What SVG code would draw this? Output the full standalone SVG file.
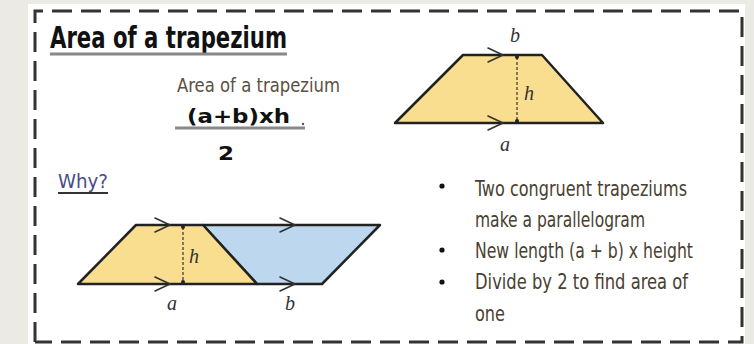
<svg xmlns="http://www.w3.org/2000/svg" xmlns:xlink="http://www.w3.org/1999/xlink" width="754" height="344" viewBox="0 0 754 344">
<style>
.hand{font-family:"DejaVu Sans Condensed","DejaVu Sans",sans-serif;}
.title{font-size:31px;font-weight:bold;fill:#111;}
.sub{font-size:20px;fill:#5a5040;}
.formula{font-size:20px;font-weight:bold;fill:#111;}
.why{font-size:20px;fill:#4a4a8a;}
.bul{font-size:21px;fill:#4a4030;}
.math{font-family:"Liberation Serif","DejaVu Serif",serif;font-style:italic;font-size:20px;fill:#333;text-anchor:middle;}
.shape{stroke:#222;stroke-width:2.5;stroke-linejoin:round;}
.yel{fill:#f9de8f;}
.blu{fill:#bdd7ee;}
.ht{stroke:#333;stroke-width:1.2;stroke-dasharray:3 2;fill:none;}
.chev{fill:none;stroke:#333;stroke-width:1.6;stroke-linecap:round;stroke-linejoin:round;}
.border{fill:none;stroke:#333;stroke-width:3;stroke-dasharray:20 9;}
</style>
<defs>
<path id="chev" class="chev" d="M-15,-7 L0,0 L-15,7"/>
<marker id="tick" markerWidth="6" markerHeight="6" refX="3" refY="3" markerUnits="userSpaceOnUse"><circle cx="3" cy="3" r="2" fill="#222"/></marker>
</defs>
<rect width="754" height="344" fill="#ebeae5"/>
<rect x="28" y="4" width="717" height="340" fill="#ffffff"/>
<path class="border" d="M35,342 L35,11 L742,11 L742,342 L35,342"/>

<g id="title">
<text class="hand title" x="50" y="48" textLength="237" lengthAdjust="spacingAndGlyphs">Area of a trapezium</text>
<line x1="50" y1="54" x2="287" y2="54" stroke="#888" stroke-width="3"/>
</g>

<g id="formula">
<text class="hand sub" x="177" y="92" textLength="163" lengthAdjust="spacingAndGlyphs">Area of a trapezium</text>
<text class="hand formula" x="187" y="123" textLength="103" lengthAdjust="spacingAndGlyphs">(a+b)xh</text>
<line x1="175" y1="128" x2="305" y2="128" stroke="#888" stroke-width="3"/>
<circle cx="303" cy="124" r="1.2" fill="#555"/>
<text class="hand formula" x="218" y="160" textLength="16" lengthAdjust="spacingAndGlyphs">2</text>
</g>

<g id="trapezium-top">
<polygon class="shape yel" points="463,55 542,55 603,123 395,123"/>
<line class="ht" x1="517" y1="57" x2="517" y2="121" marker-start="url(#tick)" marker-end="url(#tick)"/>
<use xlink:href="#chev" href="#chev" x="503" y="55"/>
<use xlink:href="#chev" href="#chev" x="503" y="123"/>
<text class="math" x="515" y="42">b</text>
<text class="math" x="529" y="100">h</text>
<text class="math" x="505" y="151">a</text>
</g>

<g id="why">
<text class="hand why" x="58" y="188" textLength="50" lengthAdjust="spacingAndGlyphs">Why?</text>
<line x1="58" y1="193" x2="108" y2="193" stroke="#333" stroke-width="1.8"/>
</g>

<g id="parallelogram">
<polygon class="shape blu" points="203,225 380,225 322,284 257,284"/>
<polygon class="shape yel" points="136,225 203,225 257,284 78,284"/>
<line class="ht" x1="183" y1="227" x2="183" y2="282" marker-start="url(#tick)" marker-end="url(#tick)"/>
<use xlink:href="#chev" href="#chev" x="170" y="225"/>
<use xlink:href="#chev" href="#chev" x="170" y="284"/>
<use xlink:href="#chev" href="#chev" x="295" y="225"/>
<use xlink:href="#chev" href="#chev" x="295" y="284"/>
<text class="math" x="194" y="263">h</text>
<text class="math" x="172" y="310">a</text>
<text class="math" x="290" y="310">b</text>
</g>

<g id="bullets">
<circle cx="442" cy="186" r="2.6" fill="#111"/>
<circle cx="442" cy="250" r="2.6" fill="#111"/>
<circle cx="442" cy="282" r="2.6" fill="#111"/>
<text class="hand bul" x="475" y="196" textLength="212" lengthAdjust="spacingAndGlyphs">Two congruent trapeziums</text>
<text class="hand bul" x="475" y="227" textLength="170" lengthAdjust="spacingAndGlyphs">make a parallelogram</text>
<text class="hand bul" x="475" y="258" textLength="218" lengthAdjust="spacingAndGlyphs">New length (a + b) x height</text>
<text class="hand bul" x="475" y="289" textLength="213" lengthAdjust="spacingAndGlyphs">Divide by 2 to find area of</text>
<text class="hand bul" x="475" y="321" textLength="30" lengthAdjust="spacingAndGlyphs">one</text>
</g>
</svg>
